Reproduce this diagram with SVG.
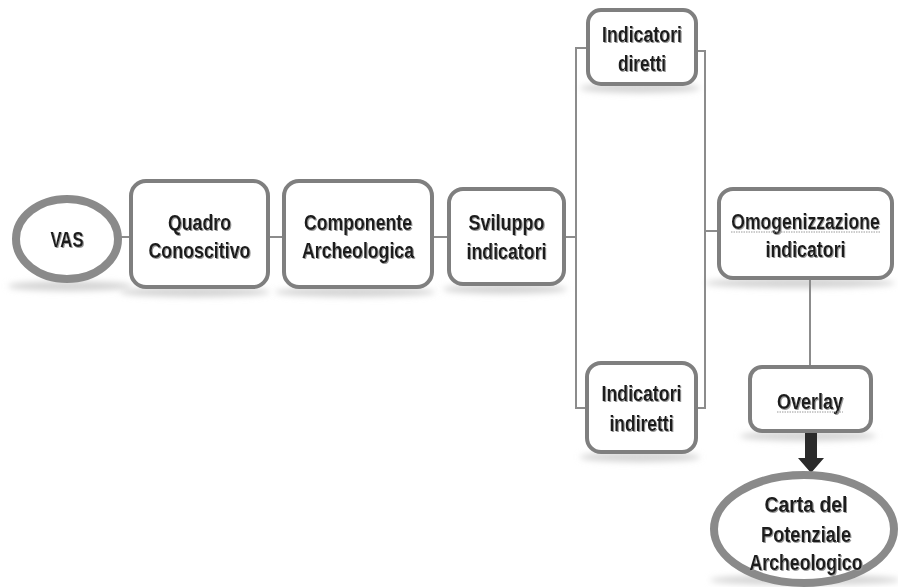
<svg xmlns="http://www.w3.org/2000/svg" width="898" height="587" viewBox="0 0 898 587">
<defs>
<style>
.box{fill:#fff;stroke:#7f7f7f;stroke-width:4}
.ell{fill:#fff;stroke:#8a8a8a;stroke-width:8}
.con{fill:none;stroke:#8c8c8c;stroke-width:2}
.t{font-family:"Liberation Sans",Arial,sans-serif;font-weight:bold;font-size:22px;fill:#1a1a1a;text-anchor:middle}
.sh{fill:#d4d4d4;filter:url(#blur)}
</style>
<filter id="blur" x="-20%" y="-200%" width="140%" height="500%"><feGaussianBlur stdDeviation="3"/></filter>
<filter id="ts" x="-5%" y="-20%" width="110%" height="140%"><feDropShadow dx="1" dy="1" stdDeviation="0.6" flood-color="#999"/></filter>
</defs>
<rect width="898" height="587" fill="#fff"/>
<g id="shadows">
<ellipse class="sh" cx="70" cy="286" rx="62" ry="5"/>
<ellipse class="sh" cx="195" cy="292" rx="75" ry="5"/>
<ellipse class="sh" cx="355" cy="292" rx="80" ry="5"/>
<ellipse class="sh" cx="505" cy="289" rx="62" ry="5"/>
<ellipse class="sh" cx="640" cy="88" rx="60" ry="5"/>
<ellipse class="sh" cx="640" cy="457" rx="60" ry="5"/>
<ellipse class="sh" cx="800" cy="283" rx="95" ry="5"/>
<ellipse class="sh" cx="808" cy="436" rx="68" ry="5"/>
<ellipse class="sh" cx="805" cy="580" rx="95" ry="5"/>
</g>
<g id="connectors">
<line class="con" x1="120" y1="237" x2="131" y2="237"/>
<line class="con" x1="268" y1="237" x2="284" y2="237"/>
<line class="con" x1="432" y1="237" x2="449" y2="237"/>
<line class="con" x1="564" y1="237" x2="576" y2="237"/>
<polyline class="con" points="588,48 576,48 576,408 587,408"/>
<polyline class="con" points="696,51 705,51 705,408 696,408"/>
<line class="con" x1="705" y1="231" x2="719" y2="231"/>
<line class="con" x1="810" y1="278" x2="810" y2="367"/>
<polygon fill="#2b2b2b" points="805,433 817,433 817,458 824,458 811,473 798,458 805,458"/>
</g>
<g id="vas">
<ellipse class="ell" cx="67" cy="239" rx="51" ry="40"/>
<text class="t" x="67" y="247" textLength="33" lengthAdjust="spacingAndGlyphs" filter="url(#ts)">VAS</text>
</g>
<g id="quadro">
<rect class="box" x="131" y="181" width="137" height="106" rx="15"/>
<text class="t" x="199.5" y="230" textLength="63" lengthAdjust="spacingAndGlyphs" filter="url(#ts)">Quadro</text>
<text class="t" x="199.5" y="258" textLength="102" lengthAdjust="spacingAndGlyphs" filter="url(#ts)">Conoscitivo</text>
</g>
<g id="componente">
<rect class="box" x="284" y="181" width="148" height="106" rx="15"/>
<text class="t" x="358" y="230" textLength="108" lengthAdjust="spacingAndGlyphs" filter="url(#ts)">Componente</text>
<text class="t" x="358" y="258" textLength="112" lengthAdjust="spacingAndGlyphs" filter="url(#ts)">Archeologica</text>
</g>
<g id="sviluppo">
<rect class="box" x="449" y="189" width="115" height="95" rx="14"/>
<text class="t" x="506.5" y="230" textLength="76" lengthAdjust="spacingAndGlyphs" filter="url(#ts)">Sviluppo</text>
<text class="t" x="506.5" y="259" textLength="80" lengthAdjust="spacingAndGlyphs" filter="url(#ts)">indicatori</text>
</g>
<g id="diretti">
<rect class="box" x="588" y="10" width="108" height="74" rx="13"/>
<text class="t" x="642" y="42" textLength="80" lengthAdjust="spacingAndGlyphs" filter="url(#ts)">Indicatori</text>
<text class="t" x="642" y="71" textLength="48" lengthAdjust="spacingAndGlyphs" filter="url(#ts)">diretti</text>
</g>
<g id="indiretti">
<rect class="box" x="587" y="363" width="109" height="89" rx="14"/>
<text class="t" x="641.5" y="401" textLength="80" lengthAdjust="spacingAndGlyphs" filter="url(#ts)">Indicatori</text>
<text class="t" x="641.5" y="431" textLength="64" lengthAdjust="spacingAndGlyphs" filter="url(#ts)">indiretti</text>
</g>
<g id="omogenizzazione">
<rect class="box" x="719" y="189" width="173" height="89" rx="14"/>
<text class="t" transform="translate(805.5,229) scale(0.8,1)" x="0" y="0" filter="url(#ts)">Omogenizzazione</text>
<line x1="731" y1="232" x2="880" y2="232" stroke="#9a9a9a" stroke-width="1" stroke-dasharray="1.5,1"/>
<text class="t" x="805.5" y="257" textLength="80" lengthAdjust="spacingAndGlyphs" filter="url(#ts)">indicatori</text>
</g>
<g id="overlay">
<rect class="box" x="750" y="367" width="121" height="64" rx="12"/>
<text class="t" x="810" y="409" textLength="66" lengthAdjust="spacingAndGlyphs" filter="url(#ts)">Overlay</text>
<line x1="777" y1="412" x2="843" y2="412" stroke="#9a9a9a" stroke-width="1" stroke-dasharray="1.5,1"/>
</g>
<g id="carta">
<ellipse class="ell" cx="804" cy="529" rx="90" ry="54"/>
<text class="t" x="806" y="512" textLength="83" lengthAdjust="spacingAndGlyphs" filter="url(#ts)">Carta del</text>
<text class="t" x="806" y="542" textLength="90" lengthAdjust="spacingAndGlyphs" filter="url(#ts)">Potenziale</text>
<text class="t" x="806" y="570" textLength="113" lengthAdjust="spacingAndGlyphs" filter="url(#ts)">Archeologico</text>
</g>
</svg>
